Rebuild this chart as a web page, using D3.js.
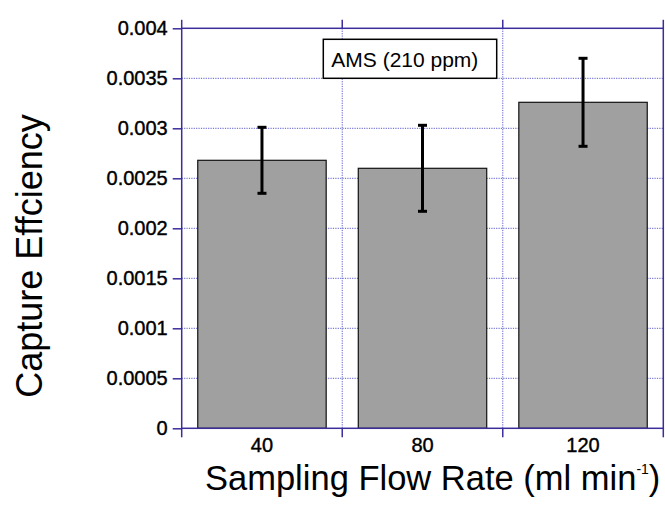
<!DOCTYPE html>
<html>
<head>
<meta charset="utf-8">
<script src="https://cdn.jsdelivr.net/npm/d3@7"></script>
<style>
  body { margin: 0; background: #fff; }
  text { font-family: "Liberation Sans", Arial, sans-serif; }
</style>
</head>
<body>
<div class="canvas"></div>
<script>
// chart values
const categories = ['40', '80', '120'];
const efficiency = [0.00268, 0.00260, 0.00326];
const errors = [0.00033, 0.00043, 0.00044];
const yTicks = [0, 0.0005, 0.001, 0.0015, 0.002, 0.0025, 0.003, 0.0035, 0.004];
const yTickLabels = ['0', '0.0005', '0.001', '0.0015', '0.002', '0.0025', '0.003', '0.0035', '0.004'];

const width = 665, height = 508;
const margin = {top: 28.3, right: 1.7, bottom: 79.7, left: 181.7};
const graphWidth = width - margin.left - margin.right;
const graphHeight = height - margin.top - margin.bottom;

const axisColor = '#3b2d9c';
const gridColor = '#5a5acc';

const svg = d3.select('.canvas')
  .append('svg')
    .attr('width', width)
    .attr('height', height);

const graph = svg.append('g')
  .attr('transform', `translate(${margin.left}, ${margin.top})`);

// scales
const y = d3.scaleLinear()
  .domain([0, 0.004])
  .range([graphHeight, 0]);

const xBand = d3.scaleBand()
  .domain(categories)
  .range([0, graphWidth]);

const xBar = d3.scaleBand()
  .domain(categories)
  .range([0, graphWidth])
  .paddingInner(0.2)
  .paddingOuter(0.1);

const bounds = categories.map(c => xBand(c)).concat([graphWidth]);

// grid
const grid = graph.append('g')
  .attr('stroke', gridColor)
  .attr('stroke-width', 1)
  .attr('stroke-dasharray', '1.2,1.2');

grid.selectAll('.hgrid')
  .data(yTicks.slice(1, -1))
  .enter().append('line')
    .attr('x1', 0).attr('x2', graphWidth)
    .attr('y1', d => y(d)).attr('y2', d => y(d));

grid.selectAll('.vgrid')
  .data(bounds.slice(1, -1))
  .enter().append('line')
    .attr('x1', d => d).attr('x2', d => d)
    .attr('y1', 0).attr('y2', graphHeight);

// legend box (sits above grid)
const legend = graph.append('g')
  .attr('transform', `translate(${323.3 - margin.left}, ${39.3 - margin.top})`);
legend.append('rect')
  .attr('width', 173.4).attr('height', 39)
  .attr('fill', '#fff')
  .attr('stroke', '#000')
  .attr('stroke-width', 1.5);
legend.append('text')
  .attr('x', 8).attr('y', 27.5)
  .attr('font-size', 21)
  .text('AMS (210 ppm)');

// bars
graph.selectAll('.bar')
  .data(efficiency)
  .enter().append('rect')
    .attr('x', (d, i) => xBar(categories[i]))
    .attr('y', d => y(d))
    .attr('width', xBar.bandwidth())
    .attr('height', d => graphHeight - y(d))
    .attr('fill', '#a0a0a0')
    .attr('stroke', '#111')
    .attr('stroke-width', 1.2);

// error bars
const errG = graph.append('g')
  .attr('stroke', '#000')
  .attr('stroke-width', 3);

efficiency.forEach((v, i) => {
  const cx = xBand(categories[i]) + xBand.bandwidth() / 2;
  const top = y(v + errors[i]);
  const bot = y(v - errors[i]);
  errG.append('line').attr('x1', cx).attr('x2', cx).attr('y1', top).attr('y2', bot);
  errG.append('line').attr('x1', cx - 4.5).attr('x2', cx + 4.5).attr('y1', top).attr('y2', top);
  errG.append('line').attr('x1', cx - 4.5).attr('x2', cx + 4.5).attr('y1', bot).attr('y2', bot);
});

// frame
graph.append('rect')
  .attr('width', graphWidth).attr('height', graphHeight)
  .attr('fill', 'none')
  .attr('stroke', axisColor)
  .attr('stroke-width', 1.5);

// boundary ticks on top and bottom
const tickG = graph.append('g')
  .attr('stroke', axisColor)
  .attr('stroke-width', 1.5);
bounds.forEach(b => {
  tickG.append('line').attr('x1', b).attr('x2', b).attr('y1', -8.5).attr('y2', 0);
  tickG.append('line').attr('x1', b).attr('x2', b).attr('y1', graphHeight).attr('y2', graphHeight + 9);
});

// left axis
const yAxis = d3.axisLeft(y)
  .tickValues(yTicks)
  .tickFormat((d, i) => yTickLabels[i])
  .tickSize(9)
  .tickPadding(5);

const yAxisGroup = graph.append('g').call(yAxis);
yAxisGroup.select('.domain').remove();
yAxisGroup.selectAll('.tick line')
  .attr('stroke', axisColor)
  .attr('stroke-width', 1.5);
yAxisGroup.selectAll('.tick text')
  .attr('font-family', '"Liberation Sans", Arial, sans-serif')
  .attr('font-size', 20)
  .attr('fill', '#000')
  .attr('stroke', '#000')
  .attr('stroke-width', 0.4);

// bottom labels
const xAxis = d3.axisBottom(xBand)
  .tickSize(0)
  .tickPadding(10);

const xAxisGroup = graph.append('g')
  .attr('transform', `translate(0, ${graphHeight})`)
  .call(xAxis);
xAxisGroup.select('.domain').remove();
xAxisGroup.selectAll('.tick text')
  .attr('font-family', '"Liberation Sans", Arial, sans-serif')
  .attr('font-size', 20)
  .attr('fill', '#000')
  .attr('stroke', '#000')
  .attr('stroke-width', 0.4);

// axis titles
svg.append('text')
  .attr('transform', `translate(42, 256) rotate(-90)`)
  .attr('text-anchor', 'middle')
  .attr('font-size', 36)
  .text('Capture Effciency');

const xTitle = svg.append('text')
  .attr('x', 205)
  .attr('y', 490)
  .attr('font-size', 34.5);
xTitle.append('tspan').text('Sampling Flow Rate (ml min');
xTitle.append('tspan').attr('font-size', 14).attr('dy', -16).text('-1');
xTitle.append('tspan').attr('dy', 16).text(')');
</script>
</body>
</html>
